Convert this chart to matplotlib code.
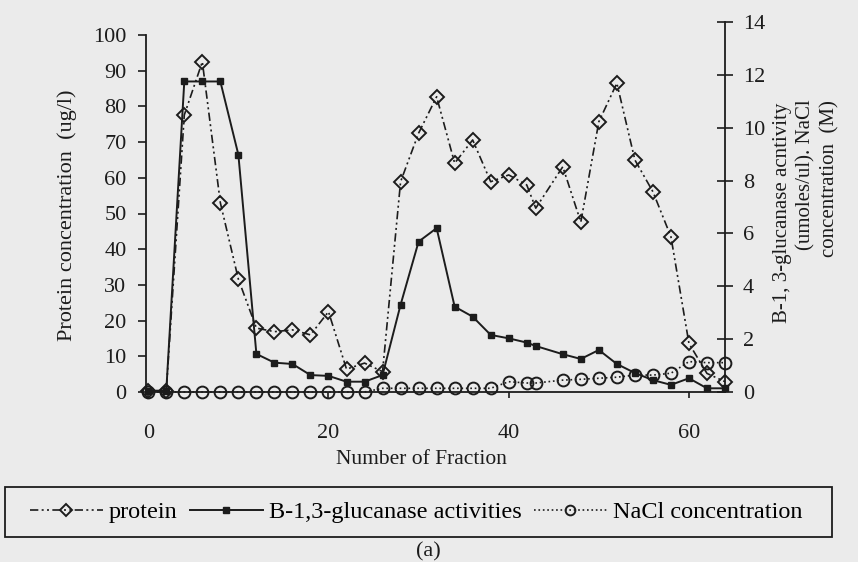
import numpy as np
import matplotlib
matplotlib.use("Agg")
import matplotlib.pyplot as plt
from matplotlib.lines import Line2D
from matplotlib.patches import Rectangle

plt.rcParams['font.family'] = ['Liberation Serif', 'DejaVu Serif']

# Number of Fraction
fraction = [0, 2, 4, 6, 8, 10, 12, 14, 16, 18, 20, 22, 24, 26, 28, 30, 32,
            34, 36, 38, 40, 42, 43, 46, 48, 50, 52, 54, 56, 58, 60, 62, 64]

# protein concentration (ug/l), left axis
protein = [0.3, 0.3, 77.6, 92.5, 53.0, 31.6, 17.9, 16.9, 17.4, 16.0, 22.5,
           6.4, 8.1, 5.7, 58.9, 72.5, 82.7, 64.1, 70.6, 58.9, 60.8, 58.0,
           51.5, 63.1, 47.6, 75.7, 86.5, 65.0, 56.1, 43.5, 13.6, 5.2, 2.9]

# B-1,3-glucanase activity, right axis
glucanase = [0.05, 0.05, 11.75, 11.75, 11.75, 8.98, 1.44, 1.11, 1.06, 0.64,
             0.61, 0.39, 0.39, 0.64, 3.30, 5.69, 6.20, 3.23, 2.85, 2.16, 2.03,
             1.87, 1.74, 1.43, 1.25, 1.59, 1.06, 0.72, 0.45, 0.27, 0.52, 0.14,
             0.14]

# NaCl concentration (M), right axis
nacl = [0, 0, 0, 0, 0, 0, 0, 0, 0, 0, 0, 0, 0, 0.14, 0.14, 0.14, 0.14, 0.14,
        0.14, 0.14, 0.39, 0.34, 0.34, 0.45, 0.48, 0.52, 0.56, 0.64, 0.64,
        0.71, 1.15, 1.11, 1.11]

left_ticks = list(range(0, 101, 10))
right_ticks = list(range(0, 15, 2))
x_ticks = [0, 20, 40, 60]

bg = '#ebebeb'
ink = '#1c1c1c'
W, H = 858, 562

fig = plt.figure(figsize=(W / 100, H / 100), dpi=100, facecolor=bg)
ax = fig.add_axes([146 / W, 170 / H, 579 / W, 370 / H])
ax.set_facecolor('none')
ax2 = ax.twinx()

pro_ls = (0, (5, 2, 1.2, 2, 1.2, 2))
ax.plot(fraction, protein, color=ink, lw=1.2, ls=pro_ls,
        marker='D', ms=6.8, mfc='none', mec=ink, mew=1.4, clip_on=False)
ax2.plot(fraction, glucanase, color=ink, lw=1.4, ls='-',
         marker='s', ms=5, mfc=ink, mec=ink, clip_on=False)
ax2.plot(fraction, nacl, color=ink, lw=1.2, ls=':',
         marker='o', ms=8.5, mfc='none', mec=ink, mew=1.4, clip_on=False)

ax.set_xlim(-0.25, 64)
ax.set_ylim(0, 100 * 370 / 357)
ax2.set_ylim(0, 14)
ax.set_xticks(x_ticks)
ax.set_yticks(left_ticks)
ax2.set_yticks(right_ticks)

for a in (ax, ax2):
    a.spines['top'].set_visible(False)
ax.spines['right'].set_visible(False)
ax2.spines['left'].set_visible(False)
ax2.spines['bottom'].set_visible(False)
ax.spines['left'].set_bounds(0, 100)
for s in ('left', 'bottom'):
    ax.spines[s].set_color(ink)
    ax.spines[s].set_linewidth(1.3)
ax2.spines['right'].set_color(ink)
ax2.spines['right'].set_linewidth(1.3)

ax.tick_params(axis='y', direction='out', length=6, width=1.2, pad=8,
               labelsize=16, colors=ink)
ax.tick_params(axis='x', direction='out', length=4, width=1.2, pad=19,
               labelsize=16, colors=ink)
ax2.tick_params(axis='y', direction='inout', length=12, width=1.2, pad=7,
                labelsize=16, colors=ink)

fig.text(421 / W, 1 - 460 / H, 'Number of Fraction', ha='center',
         va='center', fontsize=15.5, color=ink)
fig.text(67 / W, 1 - 215 / H, 'Protein concentration  (ug/l)', rotation=90,
         ha='center', va='center', fontsize=16, color=ink)
fig.text(782 / W, 1 - 213 / H, 'B-1, 3-glucanase acntivity', rotation=90,
         ha='center', va='center', fontsize=15, color=ink)
fig.text(806 / W, 1 - 175 / H, '(umoles/ul). NaCl', rotation=90,
         ha='center', va='center', fontsize=15, color=ink)
fig.text(830 / W, 1 - 179 / H, 'concentration  (M)', rotation=90,
         ha='center', va='center', fontsize=15, color=ink)
fig.text(428 / W, 1 - 552 / H, '(a)', ha='center', va='center',
         fontsize=16, color=ink)

# legend box drawn by hand, entries placed without frame
fig.patches.append(Rectangle((5 / W, 25 / H), 827 / W, 50 / H,
                             transform=fig.transFigure, fill=False,
                             edgecolor=ink, lw=1.3))
h1 = Line2D([], [], color=ink, lw=1.2, ls=pro_ls, marker='D', ms=6,
            mfc='none', mec=ink, mew=1.4)
h2 = Line2D([], [], color=ink, lw=1.4, marker='s', ms=4.5, mfc=ink, mec=ink)
h3 = Line2D([], [], color=ink, lw=1.2, ls=':', marker='o', ms=7,
            mfc='none', mec=ink, mew=1.4)
fig.legend([h1, h2, h3],
           ['protein', 'B-1,3-glucanase activities', 'NaCl concentration'],
           loc='center left', bbox_to_anchor=(30 / W, 1 - 512 / H),
           ncol=3, fontsize=17.5, frameon=False, borderpad=0,
           borderaxespad=0, handlelength=3.0, handletextpad=0.25,
           columnspacing=0.5)

fig.savefig('out.png', dpi=100, facecolor=bg)
